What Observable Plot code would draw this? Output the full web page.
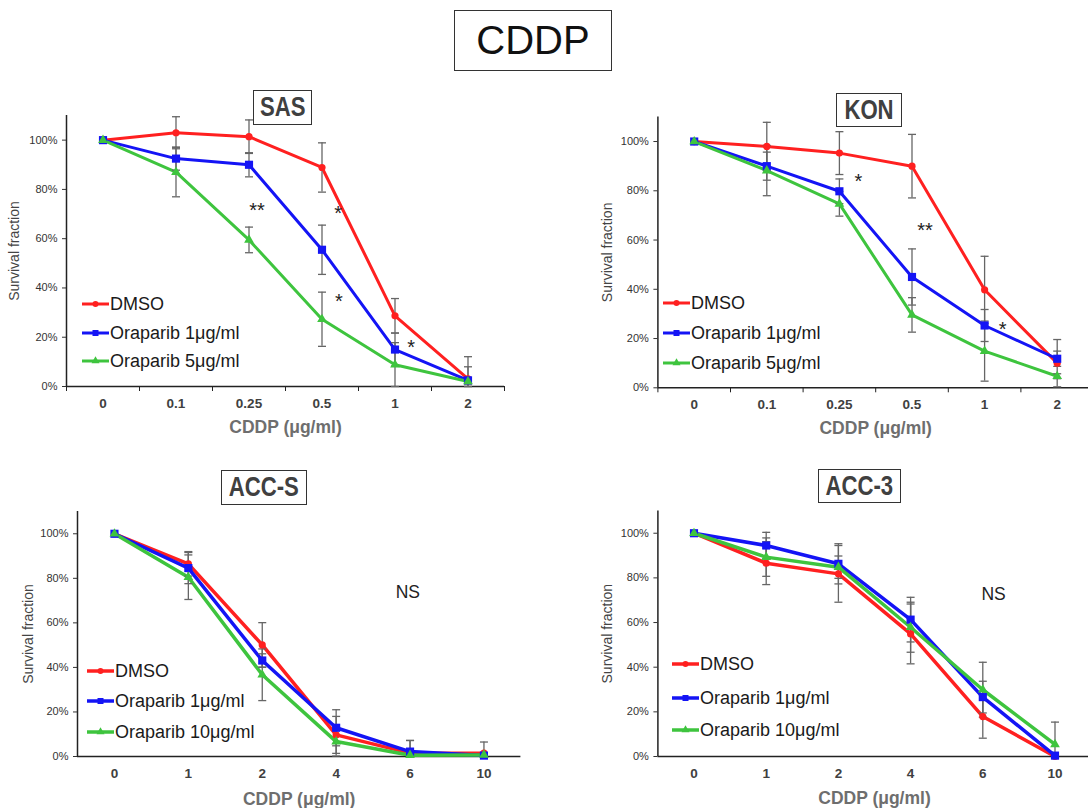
<!DOCTYPE html>
<html><head><meta charset="utf-8">
<script src="https://cdn.jsdelivr.net/npm/d3@7"></script>
<script src="https://cdn.jsdelivr.net/npm/@observablehq/plot@0.6"></script>
<style>
body{margin:0;background:#fff;font-family:"Liberation Sans",Arial,sans-serif;}
#root{position:relative;width:1088px;height:808px;overflow:hidden;background:#fff;}
.svgwrap{position:absolute;}
.svgwrap svg{max-width:none !important;display:block;}
.box{position:absolute;border:1.5px solid #333;box-sizing:border-box;display:flex;align-items:center;justify-content:center;font-weight:bold;color:#404040;font-size:27px;}
.box span{display:inline-block;transform:scaleX(0.82);white-space:nowrap;}
.main{position:absolute;border:1.5px solid #333;box-sizing:border-box;display:flex;align-items:center;justify-content:center;color:#111;font-size:40px;}
.lrow{position:absolute;height:22px;display:flex;align-items:center;font-size:18px;color:#1a1a1a;white-space:nowrap;}
.lrow svg{display:block;margin-right:1px;}
</style></head><body><div id="root"></div><script>
// ---------- data ----------
const dosesTop = ["0", "0.1", "0.25", "0.5", "1", "2"];
const dosesBottom = ["0", "1", "2", "4", "6", "10"];
const seriesNamesTop = ["DMSO", "Oraparib 1μg/ml", "Oraparib 5μg/ml"];
const seriesNamesBottom = ["DMSO", "Oraparib 1μg/ml", "Oraparib 10μg/ml"];

const sasDMSO = [100, 103, 101.4, 88.9, 28.7, 3.1];
const sasDMSOErr = [0, 6.5, 6.8, 10, 7, 9];
const sasOra1 = [100, 92.5, 90, 55.5, 15, 2.5];
const sasOra1Err = [0, 4.7, 4.9, 10, 6.7, 5.5];
const sasOra5 = [100, 87, 59.5, 27.3, 8.8, 2];
const sasOra5Err = [0, 10, 5.2, 11, 9, 1];
const sasNotes = [
  {pos: 2.11, value: 72.7, text: "**"},
  {pos: 3.22, value: 71.4, text: "*"},
  {pos: 3.23, value: 35.6, text: "*"},
  {pos: 4.22, value: 17.0, text: "*"}
];

const konDMSO = [100, 98, 95.3, 90, 39.8, 10];
const konDMSOErr = [0, 9.8, 8.7, 12.9, 13.6, 9.6];
const konOra1 = [100, 90, 79.8, 45, 25.3, 11.8];
const konOra1Err = [0, 5.7, 5, 11.4, 6.5, 3.1];
const konOra5 = [100, 88.2, 74.7, 29.6, 14.9, 4.7];
const konOra5Err = [0, 10.2, 5, 7, 12.2, 1];
const konNotes = [
  {pos: 2.26, value: 85.1, text: "*"},
  {pos: 3.18, value: 65.0, text: "**"},
  {pos: 4.25, value: 24.9, text: "*"}
];

const accsDMSO = [100, 86.5, 50.1, 9.7, 1.5, 1.5];
const accsDMSOErr = [0, 5.5, 10, 8.3, 5.7, 5];
const accsOra1 = [100, 84.6, 43.1, 12.9, 2.2, 0.4];
const accsOra1Err = [0, 7, 3, 8.1, 5, 1];
const accsOra10 = [100, 80.5, 36.7, 6.7, 0.6, 0.7];
const accsOra10Err = [0, 10, 11.6, 6.5, 1, 1];
const accsNotes = [{pos: 3.97, value: 73.8, text: "NS"}];

const acc3DMSO = [100, 86.6, 81.8, 54.9, 17.9, 0];
const acc3DMSOErr = [0, 9.6, 12.7, 13.4, 9.7, 0];
const acc3Ora1 = [100, 94.5, 86.3, 61.3, 26.6, 0.4];
const acc3Ora1Err = [0, 5.9, 9, 10, 7.1, 0.5];
const acc3Ora10 = [100, 89.3, 84.8, 57.9, 29.9, 5.4];
const acc3Ora10Err = [0, 8.6, 5, 11.2, 12.3, 10];
const acc3Notes = [{pos: 4.15, value: 72.5, text: "NS"}];

const yTicks = [0, 20, 40, 60, 80, 100];

// ---------- styles ----------
const seriesColors = ["#ff2020", "#1414f5", "#3ec43e"];
const seriesSymbols = ["circle", "square", "triangle"];
const seriesR = [3.6, 4.6, 3.6];
const capSymbol = {draw(ctx, size) { const r = Math.sqrt(size / Math.PI); ctx.moveTo(-r, 0); ctx.lineTo(r, 0); }};

const panels = [
  {name: "SAS", doses: dosesTop, names: seriesNamesTop,
   values: [sasDMSO, sasOra1, sasOra5], errors: [sasDMSOErr, sasOra1Err, sasOra5Err], notes: sasNotes,
   left: 0, top: 100, w: 544, h: 340, mL: 66, mR: 40, mT: 15, mB: 54, xTicks: true, lw: 3,
   xDy: 41, yDx: -52, box: [253, 90, 59, 35], legend: {x: 82, ys: [304, 333, 361]}},
  {name: "KON", doses: dosesTop, names: seriesNamesTop,
   values: [konDMSO, konOra1, konOra5], errors: [konDMSOErr, konOra1Err, konOra5Err], notes: konNotes,
   left: 544, top: 100, w: 560, h: 340, mL: 113.4, mR: 11, mT: 16.4, mB: 52.7, xTicks: true, lw: 3,
   xDy: 41, yDx: -50, box: [836, 93, 66, 34], legend: {x: 663, ys: [303, 333, 363]}},
  {name: "ACC-S", doses: dosesBottom, names: seriesNamesBottom,
   values: [accsDMSO, accsOra1, accsOra10], errors: [accsDMSOErr, accsOra1Err, accsOra10Err], notes: accsNotes,
   left: 0, top: 490, w: 544, h: 318, mL: 77, mR: 23.6, mT: 21, mB: 52, xTicks: false, lw: 3.5,
   xDy: 43, yDx: -49, box: [221, 470, 86, 35], legend: {x: 87, ys: [671, 701, 732]}},
  {name: "ACC-3", doses: dosesBottom, names: seriesNamesBottom,
   values: [acc3DMSO, acc3Ora1, acc3Ora10], errors: [acc3DMSOErr, acc3Ora1Err, acc3Ora10Err], notes: acc3Notes,
   left: 544, top: 490, w: 560, h: 318, mL: 113.4, mR: 13.4, mT: 20.4, mB: 52, xTicks: false, lw: 3.5,
   xDy: 42, yDx: -50, box: [818, 469, 83, 34], legend: {x: 672, ys: [664, 698, 730]}}
];

const root = document.getElementById("root");

// main title
const main = document.createElement("div");
main.className = "main";
Object.assign(main.style, {left: "454px", top: "10px", width: "158px", height: "61px"});
main.textContent = "CDDP";
root.appendChild(main);

for (const p of panels) {
  const idx = d3.range(p.doses.length);
  const marks = [
    Plot.ruleY([0], {stroke: "#222", strokeWidth: 1.5}),
    Plot.ruleX([-0.5], {stroke: "#222", strokeWidth: 1.5}),
    Plot.axisY({ticks: yTicks, tickFormat: d => d + "%", tickSize: 4, tickPadding: 5, fontSize: 11, color: "#333", label: null}),
    p.xTicks ? Plot.axisX({ticks: d3.range(-0.5, p.doses.length, 1), tickSize: 5, tickFormat: () => "", label: null, color: "#222"}) : null,
    Plot.axisX({ticks: idx, tickSize: 0, tickPadding: 12, tickFormat: i => p.doses[i], label: null, fontSize: 13.5, fontWeight: "bold", color: "#404040"}),
    Plot.text(["CDDP (μg/ml)"], {frameAnchor: "bottom", lineAnchor: "middle", textAnchor: "middle", dy: p.xDy, fontSize: 17.5, fontWeight: "bold", fill: "#6e6e6e"}),
    Plot.text(["Survival fraction"], {frameAnchor: "left", lineAnchor: "middle", textAnchor: "middle", rotate: -90, dx: p.yDx, fontSize: 14, fill: "#444"})
  ];
  p.values.forEach((vals, k) => {
    marks.push(Plot.line(vals, {x: (d, i) => i, y: d => d, stroke: seriesColors[k], strokeWidth: p.lw}));
  });
  p.values.forEach((vals, k) => {
    const errs = p.errors[k];
    const withErr = idx.filter(i => errs[i] > 0);
    marks.push(Plot.ruleX(withErr, {x: i => i, y1: i => Math.max(0, vals[i] - errs[i]), y2: i => vals[i] + errs[i], stroke: "#666", strokeWidth: 1.3}));
    const caps = withErr.flatMap(i => [{i, y: Math.max(0, vals[i] - errs[i])}, {i, y: vals[i] + errs[i]}]);
    marks.push(Plot.dot(caps, {x: "i", y: "y", symbol: capSymbol, r: 4, stroke: "#666", strokeWidth: 1.3, fill: "none"}));
  });
  p.values.forEach((vals, k) => {
    marks.push(Plot.dot(vals, {x: (d, i) => i, y: d => d, symbol: seriesSymbols[k], r: seriesR[k], fill: seriesColors[k], stroke: "none"}));
  });
  const isNS = p.notes.length && p.notes[0].text === "NS";
  marks.push(Plot.text(p.notes, {x: "pos", y: "value", text: "text", fontSize: isNS ? 17.5 : 20, dy: isNS ? 0 : 3, fill: "#222"}));

  const svg = Plot.plot({
    width: p.w, height: p.h,
    marginLeft: p.mL, marginRight: p.mR, marginTop: p.mT, marginBottom: p.mB,
    x: {domain: [-0.5, p.doses.length - 0.5]},
    y: {domain: [0, 110]},
    style: {background: "transparent", overflow: "visible", maxWidth: "none", fontFamily: "'Liberation Sans', Arial, sans-serif"},
    marks
  });
  svg.style.maxWidth = "none";
  svg.setAttribute("width", p.w);
  svg.setAttribute("height", p.h);
  svg.style.width = p.w + "px";
  svg.style.height = p.h + "px";
  const wrap = document.createElement("div");
  wrap.className = "svgwrap";
  wrap.style.left = p.left + "px";
  wrap.style.top = p.top + "px";
  wrap.style.width = p.w + "px";
  wrap.style.height = p.h + "px";
  wrap.appendChild(svg);
  root.appendChild(wrap);

  // title box
  const box = document.createElement("div");
  box.className = "box";
  Object.assign(box.style, {left: p.box[0] + "px", top: p.box[1] + "px", width: p.box[2] + "px", height: p.box[3] + "px"});
  const bt = document.createElement("span");
  bt.textContent = p.name;
  box.appendChild(bt);
  root.appendChild(box);

  // legend
  p.names.forEach((nm, k) => {
    const row = document.createElement("div");
    row.className = "lrow";
    row.style.left = p.legend.x + "px";
    row.style.top = (p.legend.ys[k] - 11) + "px";
    const sw = d3.create("svg").attr("width", 27).attr("height", 22);
    sw.append("line").attr("x1", 0).attr("x2", 27).attr("y1", 11).attr("y2", 11)
      .attr("stroke", seriesColors[k]).attr("stroke-width", p.lw);
    sw.append("path").attr("transform", "translate(13.5,11)")
      .attr("d", d3.symbol(k === 0 ? d3.symbolCircle : k === 1 ? d3.symbolSquare : d3.symbolTriangle, k === 1 ? 36 : 28)())
      .attr("fill", seriesColors[k]);
    row.appendChild(sw.node());
    const t = document.createElement("span");
    t.textContent = nm;
    row.appendChild(t);
    root.appendChild(row);
  });
}
</script></body></html>
